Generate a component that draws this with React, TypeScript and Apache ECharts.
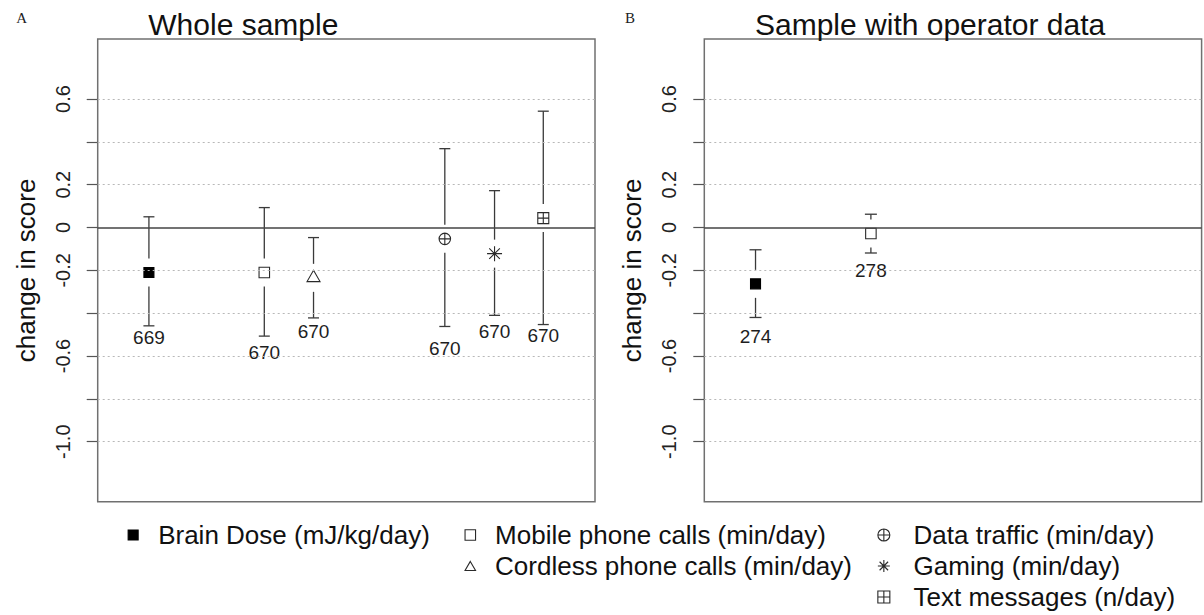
import React, { useEffect, useRef } from "react";
import * as echarts from "echarts";

const FONT = "'Liberation Sans', Arial, Helvetica, sans-serif";
const SERIF = "'Liberation Serif', 'Times New Roman', serif";

// Exposure measures (legend order)
const exposures = [
  "Brain Dose (mJ/kg/day)",
  "Mobile phone calls (min/day)",
  "Cordless phone calls (min/day)",
  "Data traffic (min/day)",
  "Gaming (min/day)",
  "Text messages (n/day)",
];

// Panel A: whole sample
const wholeEstimate = [-0.21, -0.21, -0.235, -0.053, -0.122, 0.044];
const wholeLower = [-0.459, -0.507, -0.422, -0.462, -0.41, -0.453];
const wholeUpper = [0.05, 0.093, -0.047, 0.368, 0.172, 0.543];
const wholeN = [669, 670, 670, 670, 670, 670];

// Panel B: sample with operator data (brain dose and mobile calls only)
const operatorEstimate = [-0.263, -0.028];
const operatorLower = [-0.42, -0.119];
const operatorUpper = [-0.104, 0.062];
const operatorN = [274, 278];

// Horizontal slot of each exposure within a panel (0–10 scale)
const slots = [1.03, 3.35, 4.34, 6.98, 7.98, 8.96];

// Y axis
const yMin = -1.28;
const yMax = 0.88;
const yTickValues = [-1.0, -0.8, -0.6, -0.4, -0.2, 0, 0.2, 0.4, 0.6];
const yLabelValues = [-1.0, -0.6, -0.2, 0, 0.2, 0.6];

// Marker glyphs, one per exposure
const markerPaths = [
  "M0,0L20,0L20,20L0,20Z",
  "M0,0L20,0L20,20L0,20Z",
  "M10,0L20,17.32L0,17.32Z",
  "M0,10A10,10,0,1,1,20,10A10,10,0,1,1,0,10ZM0,10L20,10M10,0L10,20",
  "M10,0L10,20M0,10L20,10M2.93,2.93L17.07,17.07M17.07,2.93L2.93,17.07",
  "M0,0L20,0L20,20L0,20ZM0,10L20,10M10,0L10,20",
];
const markerBox = [
  { w: 10, h: 10, dy: 0 },
  { w: 10.5, h: 10.5, dy: 0 },
  { w: 13, h: 11.3, dy: -1.9 },
  { w: 11.5, h: 11.5, dy: 0 },
  { w: 15, h: 15, dy: 0 },
  { w: 11, h: 11, dy: 0 },
];

// Distance (px) from the lower cap down to the sample-size label
const labelDropWhole = [11.5, 16, 13.5, 22, 16, 10.5];
const labelDropOperator = [19, 17.5];

const INK = "#3a3a3a";

function makeRenderer(capHalf: number, drops: number[]) {
  return (params: any, api: any) => {
    const cat = api.value(5);
    const x = api.value(0);
    const [px, pe] = api.coord([x, api.value(1)]);
    const pl = api.coord([x, api.value(2)])[1];
    const ph = api.coord([x, api.value(3)])[1];
    const gap = 14;
    const box = markerBox[cat];
    const line = { stroke: INK, lineWidth: 1.3 };
    const children: any[] = [];
    if (pe - gap > ph) {
      children.push({ type: "line", shape: { x1: px, y1: ph, x2: px, y2: pe - gap }, style: line });
    }
    if (pe + gap < pl) {
      children.push({ type: "line", shape: { x1: px, y1: pe + gap, x2: px, y2: pl }, style: line });
    }
    children.push({ type: "line", shape: { x1: px - capHalf, y1: ph, x2: px + capHalf, y2: ph }, style: line });
    children.push({ type: "line", shape: { x1: px - capHalf, y1: pl, x2: px + capHalf, y2: pl }, style: line });
    children.push({
      type: "path",
      shape: {
        pathData: markerPaths[cat],
        x: px - box.w / 2,
        y: pe + box.dy - box.h / 2,
        width: box.w,
        height: box.h,
      },
      style: {
        fill: cat === 0 ? "#000" : "none",
        stroke: cat === 0 ? "#000" : "#2a2a2a",
        lineWidth: 1.1,
      },
    });
    children.push({
      type: "text",
      x: px,
      y: pl + drops[cat],
      style: {
        text: String(api.value(4)),
        fontSize: 19,
        fontFamily: FONT,
        fill: "#1e1e1e",
        align: "center",
        verticalAlign: "middle",
      },
    });
    return { type: "group", children };
  };
}

const gridLineValues = yTickValues.filter((v) => v !== 0);

function guideSeries(axis: number) {
  return {
    type: "line",
    name: "guides-" + axis,
    xAxisIndex: axis,
    yAxisIndex: axis,
    data: [],
    silent: true,
    z: 1,
    markLine: {
      silent: true,
      symbol: ["none", "none"],
      label: { show: false },
      emphasis: { disabled: true },
      data: [
        ...gridLineValues.map((v) => ({
          yAxis: v,
          lineStyle: { type: [2, 3], color: "#b8b8b8", width: 1 },
        })),
        { yAxis: 0, lineStyle: { type: "solid", color: "#444", width: 1.6 } },
      ],
    },
  };
}

function yAxisFor(grid: number) {
  return {
    type: "value",
    gridIndex: grid,
    min: yMin,
    max: yMax,
    name: "change in score",
    nameLocation: "middle",
    nameRotate: 90,
    nameGap: 59,
    nameTextStyle: { fontSize: 26, color: "#111", fontFamily: FONT },
    axisLine: { show: false },
    splitLine: { show: false },
    axisTick: {
      show: true,
      inside: false,
      length: 11,
      customValues: yTickValues,
      lineStyle: { color: "#555", width: 1.2 },
    },
    axisLabel: {
      show: true,
      customValues: yLabelValues,
      rotate: 90,
      margin: 25,
      fontSize: 20,
      color: "#222",
      fontFamily: FONT,
      formatter: (v: number) => (Math.abs(v) < 1e-9 ? "0" : v.toFixed(1)),
    },
  };
}

function xAxisFor(grid: number) {
  return { type: "value", gridIndex: grid, min: 0, max: 10, show: false };
}

function legendItem(i: number) {
  return {
    name: exposures[i],
    icon: "path://" + markerPaths[i],
    itemStyle: {
      color: i === 0 ? "#000" : "rgba(0,0,0,0)",
      borderColor: i === 0 ? "#000" : "#2a2a2a",
      borderWidth: 1.1,
    },
  };
}

function legendColumn(left: number, size: number, textGap: number, items: number[]) {
  return {
    orient: "vertical",
    left,
    top: 522,
    padding: 0,
    itemGap: 5,
    itemWidth: size,
    itemHeight: size,
    selectedMode: false,
    textStyle: {
      fontSize: 26,
      lineHeight: 26,
      color: "#111",
      fontFamily: FONT,
      padding: [0, 0, 0, textGap],
    },
    data: items.map(legendItem),
  };
}

export default function App() {
  const ref = useRef<HTMLDivElement>(null);

  useEffect(() => {
    if (!ref.current) return;
    const chart = echarts.init(ref.current, undefined, { renderer: "svg" });

    const wholeSeries = exposures.map((name, i) => ({
      type: "custom",
      name,
      xAxisIndex: 0,
      yAxisIndex: 0,
      z: 3,
      renderItem: makeRenderer(5.5, labelDropWhole),
      data: [[slots[i], wholeEstimate[i], wholeLower[i], wholeUpper[i], wholeN[i], i]],
    }));

    const operatorSeries = operatorEstimate.map((est, i) => ({
      type: "custom",
      name: exposures[i],
      xAxisIndex: 1,
      yAxisIndex: 1,
      z: 3,
      renderItem: makeRenderer(6, labelDropOperator),
      data: [[slots[i], est, operatorLower[i], operatorUpper[i], operatorN[i], i]],
    }));

    chart.setOption({
      animation: false,
      backgroundColor: "#fff",
      textStyle: { fontFamily: FONT },
      grid: [
        { left: 97.7, top: 39, width: 497.3, height: 462.7, show: true, borderColor: "#707070", borderWidth: 1.5, backgroundColor: "transparent" },
        { left: 704.3, top: 39, width: 497.3, height: 462.7, show: true, borderColor: "#707070", borderWidth: 1.5, backgroundColor: "transparent" },
      ],
      xAxis: [xAxisFor(0), xAxisFor(1)],
      yAxis: [yAxisFor(0), yAxisFor(1)],
      legend: [
        legendColumn(127.6, 10, 15, [0]),
        legendColumn(464.5, 10.5, 14.5, [1, 2]),
        legendColumn(877.3, 12, 18.7, [3, 4, 5]),
      ],
      graphic: [
        { type: "text", x: 21.7, y: 18, style: { text: "A", fontSize: 15, fontFamily: SERIF, fill: "#222", align: "center", verticalAlign: "middle" } },
        { type: "text", x: 630, y: 18, style: { text: "B", fontSize: 15, fontFamily: SERIF, fill: "#222", align: "center", verticalAlign: "middle" } },
        { type: "text", x: 148.3, y: 24, style: { text: "Whole sample", fontSize: 30, fontFamily: FONT, fill: "#111", align: "left", verticalAlign: "middle" } },
        { type: "text", x: 755, y: 24, style: { text: "Sample with operator data", fontSize: 30, fontFamily: FONT, fill: "#111", align: "left", verticalAlign: "middle" } },
      ],
      series: [guideSeries(0), guideSeries(1), ...wholeSeries, ...operatorSeries],
    });

    return () => chart.dispose();
  }, []);

  return (
    <div
      ref={ref}
      style={{ position: "fixed", left: 0, top: 0, width: 1204, height: 615, background: "#fff" }}
    />
  );
}
